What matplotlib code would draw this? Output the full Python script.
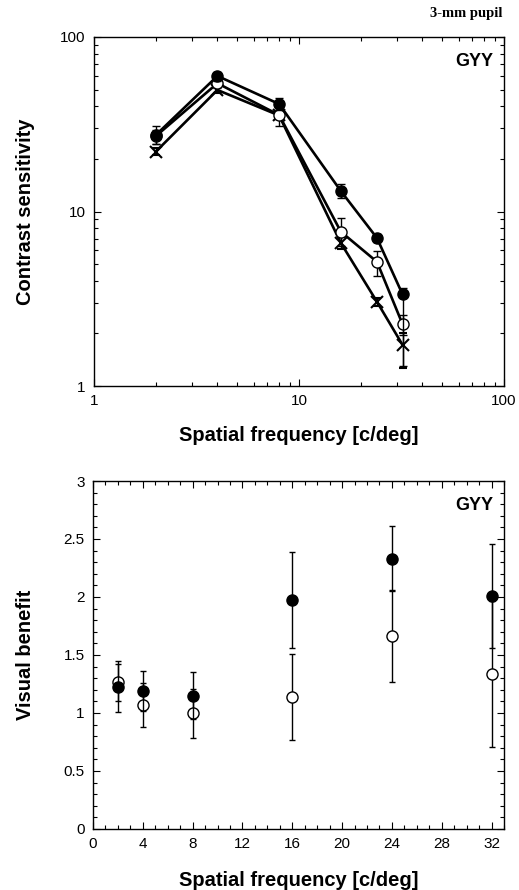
import matplotlib
matplotlib.use("Agg")
import matplotlib.pyplot as plt
from matplotlib.ticker import LogLocator, NullFormatter, MultipleLocator, FixedLocator, FixedFormatter
import numpy as np

plt.rcParams['font.family'] = ['Liberation Sans', 'DejaVu Sans']

# ---- Top panel: contrast sensitivity ----
freq = [2, 4, 8, 16, 24, 32]
cs_filled = [27.4, 59.8, 41.3, 13.1, 7.05, 3.35]
cs_filled_err_lo = [3.0, 3.5, 3.0, 1.2, 0.4, 2.05]
cs_filled_err_hi = [3.3, 3.5, 3.5, 1.3, 0.4, 0.3]
cs_open = [27.0, 54.3, 35.7, 7.66, 5.15, 2.26]
cs_open_err_lo = [2.5, 3.0, 5.0, 1.35, 0.9, 0.3]
cs_open_err_hi = [2.5, 3.0, 3.3, 1.5, 0.8, 0.3]
cs_cross = [22.0, 49.7, 35.5, 6.6, 3.04, 1.72]
cs_cross_err_lo = [1.0, 2.0, 1.5, 0.5, 0.15, 0.45]
cs_cross_err_hi = [1.0, 2.0, 1.5, 0.5, 0.15, 0.3]

# ---- Bottom panel: visual benefit ----
vb_filled = [1.227, 1.19, 1.15, 1.974, 2.33, 2.01]
vb_filled_err = [0.22, 0.17, 0.20, 0.41, 0.28, 0.45]
vb_open = [1.265, 1.069, 0.997, 1.14, 1.664, 1.336]
vb_open_err = [0.16, 0.19, 0.21, 0.37, 0.40, 0.63]

W, H = 519, 890
fig = plt.figure(figsize=(W / 100, H / 100), dpi=100)

def ax_rect(l, t, r, b):
    return [l / W, 1 - b / H, (r - l) / W, (b - t) / H]

ax1 = fig.add_axes(ax_rect(94, 37, 504, 386))
ax2 = fig.add_axes(ax_rect(93, 481, 504, 829))

lw = 1.9
ms = 8
# crosses
ax1.errorbar(freq, cs_cross, yerr=[cs_cross_err_lo, cs_cross_err_hi], color='black',
             marker='x', ms=8.5, mew=1.5, lw=lw, capsize=3, elinewidth=1.0, zorder=3)
# open
ax1.errorbar(freq, cs_open, yerr=[cs_open_err_lo, cs_open_err_hi], color='black',
             marker='o', ms=ms, mfc='white', mec='black', mew=1.0, lw=lw, capsize=3,
             elinewidth=1.0, zorder=4)
# filled
ax1.errorbar(freq, cs_filled, yerr=[cs_filled_err_lo, cs_filled_err_hi], color='black',
             marker='o', ms=ms, mfc='black', mec='black', lw=lw, capsize=3,
             elinewidth=1.0, zorder=5)

ax1.set_xscale('log')
ax1.set_yscale('log')
ax1.set_xlim(1, 100)
ax1.set_ylim(1, 100)
ax1.xaxis.set_major_locator(FixedLocator([1, 10, 100]))
ax1.xaxis.set_major_formatter(FixedFormatter(['1', '10', '100']))
ax1.yaxis.set_major_locator(FixedLocator([1, 10, 100]))
ax1.yaxis.set_major_formatter(FixedFormatter(['1', '10', '100']))
ax1.xaxis.set_minor_locator(LogLocator(base=10, subs=np.arange(2, 10)))
ax1.yaxis.set_minor_locator(LogLocator(base=10, subs=np.arange(2, 10)))
ax1.xaxis.set_minor_formatter(NullFormatter())
ax1.yaxis.set_minor_formatter(NullFormatter())
ax1.set_xlabel('Spatial frequency [c/deg]', fontsize=14.5, fontweight='bold', labelpad=13)
ax1.set_ylabel('Contrast sensitivity', fontsize=14.5, fontweight='bold')
ax1.yaxis.set_label_coords(-0.1436, 0.5)
ax1.text(0.975, 0.955, 'GYY', transform=ax1.transAxes, ha='right', va='top',
         fontsize=13, fontweight='bold')

# bottom
ax2.errorbar(freq, vb_open, yerr=vb_open_err, fmt='o', color='black', ms=ms,
             mfc='white', mec='black', mew=1.0, capsize=2.5, elinewidth=1.0, zorder=3)
ax2.errorbar(freq, vb_filled, yerr=vb_filled_err, fmt='o', color='black', ms=ms,
             mfc='black', mec='black', capsize=2.5, elinewidth=1.0, zorder=4)
ax2.set_xlim(0, 33)
ax2.set_ylim(0, 3)
ax2.xaxis.set_major_locator(MultipleLocator(4))
ax2.xaxis.set_minor_locator(MultipleLocator(1))
ax2.yaxis.set_major_locator(MultipleLocator(0.5))
ax2.yaxis.set_minor_locator(MultipleLocator(0.1))
ax2.set_yticks([0, 0.5, 1, 1.5, 2, 2.5, 3])
ax2.set_yticklabels(['0', '0.5', '1', '1.5', '2', '2.5', '3'])
ax2.set_xlabel('Spatial frequency [c/deg]', fontsize=14.5, fontweight='bold', labelpad=14)
ax2.set_ylabel('Visual benefit', fontsize=14.5, fontweight='bold')
ax2.yaxis.set_label_coords(-0.141, 0.5)
ax2.text(0.975, 0.955, 'GYY', transform=ax2.transAxes, ha='right', va='top',
         fontsize=13, fontweight='bold')

for ax in (ax1, ax2):
    ax.tick_params(which='both', direction='in', top=True, right=True, labelsize=11)
    ax.tick_params(which='major', length=5, width=0.8, pad=6)
    ax.tick_params(which='minor', length=3, width=0.8)
    for s in ax.spines.values():
        s.set_linewidth(1.0)

fig.text(503 / W, 1 - 14 / H, '3-mm pupil', ha='right', va='center',
         fontsize=10.5, fontweight='bold', family='Liberation Serif')

fig.savefig('out.png', dpi=100)
